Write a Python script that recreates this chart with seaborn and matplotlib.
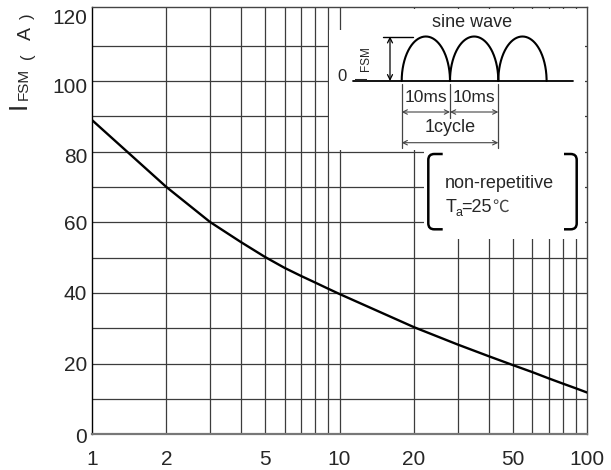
import numpy as np
import pandas as pd
import matplotlib
matplotlib.use("Agg")
import matplotlib.pyplot as plt
import matplotlib.transforms as mtransforms
import seaborn as sns
from matplotlib.patches import Rectangle, PathPatch
from matplotlib.path import Path
from matplotlib.ticker import NullLocator

# surge current vs number of cycles
cycles = [1, 2, 3, 4, 5, 6, 7, 8, 9, 10, 20, 30, 40, 50, 60, 70, 80, 90, 100]
ifsm = [89.0, 70.0, 60.1, 54.4, 50.2, 47.1, 44.8, 42.9, 41.2, 39.7,
        30.3, 25.4, 22.1, 19.6, 17.6, 15.8, 14.3, 13.0, 11.8]

x_ticks = [1, 2, 5, 10, 20, 50, 100]
x_ticklabels = ["1", "2", "5", "10", "20", "50", "100"]
y_ticks = [0, 20, 40, 60, 80, 100, 120]
grid_x = [2, 3, 4, 5, 6, 7, 8, 9, 10, 20, 30, 40, 50, 60, 70, 80, 90]
grid_y = [10, 20, 30, 40, 50, 60, 70, 80, 90, 100, 110]

W, H = 611, 470

sns.set_style("white")
plt.rcParams["font.family"] = ["Liberation Sans", "Noto Sans CJK SC", "DejaVu Sans"]

fig = plt.figure(figsize=(W / 100, H / 100), dpi=100)
left, right, top, bottom = 91.7, 587.3, 6.7, 434.3
ax = fig.add_axes([left / W, 1 - bottom / H, (right - left) / W, (bottom - top) / H])

df = pd.DataFrame({"cycles": cycles, "ifsm": ifsm})
sns.lineplot(data=df, x="cycles", y="ifsm", color="black", lw=1.7,
             estimator=None, ax=ax, zorder=3)

ax.set_xscale("log")
ax.set_xlim(1, 100)
ax.set_ylim(0, 121)
ax.vlines(grid_x, 0, 121, colors="#3c3c3c", lw=0.9, zorder=1)
ax.hlines(grid_y, 1, 100, colors="#3c3c3c", lw=0.9, zorder=1)

ax.set_xticks(x_ticks)
ax.set_xticklabels(x_ticklabels)
ax.xaxis.set_minor_locator(NullLocator())
ax.set_yticks(y_ticks)
ax.tick_params(axis="both", length=0, labelsize=15)
ax.tick_params(axis="x", pad=11)
ax.tick_params(axis="y", pad=3.2)
ax.set_xlabel("")
ax.set_ylabel("")
# upper y labels sit a little below their grid lines in the original
for lab, shift in zip(ax.get_yticklabels(), [1, 0, 0, 0, 4, 5, 6]):
    lab.set_transform(lab.get_transform() +
                      mtransforms.ScaledTranslation(0, -shift / 100, fig.dpi_scale_trans))
for name, sp in ax.spines.items():
    sp.set_color("#444444")
    sp.set_linewidth(1.0)
ax.spines["left"].set_color("black")
ax.spines["bottom"].set_color("#777777")
ax.spines["bottom"].set_linewidth(1.6)

# overlay in pixel coordinates for the inset sketch and labels
ov = fig.add_axes([0, 0, 1, 1])
ov.set_xlim(0, W)
ov.set_ylim(H, 0)
ov.axis("off")
ov.patch.set_alpha(0)

# white boxes hiding the grid behind the inset
for x0, y0, x1, y1 in [(328.5, 30, 584.5, 149.5), (344, 8.5, 584.5, 30),
                       (424, 145, 584.5, 239)]:
    ov.add_patch(Rectangle((x0, y0), x1 - x0, y1 - y0, facecolor="white",
                           edgecolor="none", zorder=2))

# y axis label: I_FSM（A）, written bottom to top
ov.text(19, 105, "I", rotation=90, fontsize=19, ha="center", va="center")
ov.text(24, 84, "FSM", rotation=90, fontsize=11, ha="center", va="center")
ov.text(27, 56, "(", rotation=90, fontsize=12, ha="center", va="center")
ov.text(26, 34, "A", rotation=90, fontsize=14, ha="center", va="center")
ov.text(27, 16, ")", rotation=90, fontsize=12, ha="center", va="center")

# sine wave sketch
t0, ms_px, base, amp = 401.7, 4.83, 81.0, 44.5
ov.text(471.7, 22.7, "sine wave", fontsize=13, ha="center", va="center", zorder=4)
ov.plot([353, 573], [base, base], color="black", lw=1.3, zorder=4)
theta = np.linspace(0, np.pi, 200)
for k in range(3):
    cx = t0 + (k * 10 + 5) * ms_px
    ov.plot(cx - 5 * ms_px * np.cos(theta), base - amp * np.sin(theta),
            color="black", lw=1.5, zorder=4)
ov.plot([383, 412.7], [base - amp, base - amp], color="black", lw=1.0, zorder=4)
ov.annotate("", xy=(390, base - amp), xytext=(390, base),
            arrowprops=dict(arrowstyle="<->", color="black", lw=0.9,
                            shrinkA=0, shrinkB=0, mutation_scale=9), zorder=4)
ov.text(341.5, 76.5, "0", fontsize=12, ha="center", va="center", zorder=4)
ov.text(362, 77.5, "I", rotation=90, fontsize=12, ha="center", va="center", zorder=4)
ov.text(365.5, 59, "FSM", rotation=90, fontsize=8.5, ha="center", va="center", zorder=4)

for t, y_end in [(0, 148), (10, 118), (20, 148)]:
    ov.plot([t0 + t * ms_px] * 2, [base + 3, y_end], color="#444444", lw=0.9, zorder=4)
for ta, tb in [(0, 10), (10, 20)]:
    ov.annotate("", xy=(t0 + tb * ms_px, 112), xytext=(t0 + ta * ms_px, 112),
                arrowprops=dict(arrowstyle="<->", color="#444444", lw=0.8,
                                shrinkA=0, shrinkB=0, mutation_scale=8), zorder=4)
    ov.text(t0 + (ta + tb) / 2 * ms_px, 98, "10ms", fontsize=12.5,
            ha="center", va="center", zorder=4)
ov.annotate("", xy=(t0 + 20 * ms_px, 142.7), xytext=(t0, 142.7),
            arrowprops=dict(arrowstyle="<->", color="#444444", lw=0.8,
                            shrinkA=0, shrinkB=0, mutation_scale=8), zorder=4)
ov.text(t0 + 10 * ms_px, 128, "1cycle", fontsize=13, ha="center", va="center", zorder=4)

# bracketed condition note
def bracket(x_edge, x_hook, y_top, y_bot, r=6):
    s = 1 if x_hook > x_edge else -1
    verts = [(x_hook, y_top), (x_edge + s * r, y_top), (x_edge, y_top), (x_edge, y_top + r),
             (x_edge, y_bot - r), (x_edge, y_bot), (x_edge + s * r, y_bot), (x_hook, y_bot)]
    codes = [Path.MOVETO, Path.LINETO, Path.CURVE3, Path.CURVE3,
             Path.LINETO, Path.CURVE3, Path.CURVE3, Path.LINETO]
    ov.add_patch(PathPatch(Path(verts, codes), fill=False, lw=1.8,
                           edgecolor="black", zorder=4))

bracket(428.3, 442.7, 154, 229.3)
bracket(576.7, 564, 154, 229.3)
ov.text(445, 183, "non-repetitive", fontsize=13, ha="left", va="center", zorder=4)
ov.text(446, 212, "T", fontsize=13, va="baseline", zorder=4)
ov.text(455.5, 215.5, "a", fontsize=9, va="baseline", zorder=4)
ov.text(461, 212, "=25", fontsize=13, va="baseline", zorder=4)
ov.text(492, 212, "℃", fontsize=12, va="baseline", family="Noto Sans CJK SC",
        color="#444444", zorder=4)

fig.savefig("out.png", dpi=100)
